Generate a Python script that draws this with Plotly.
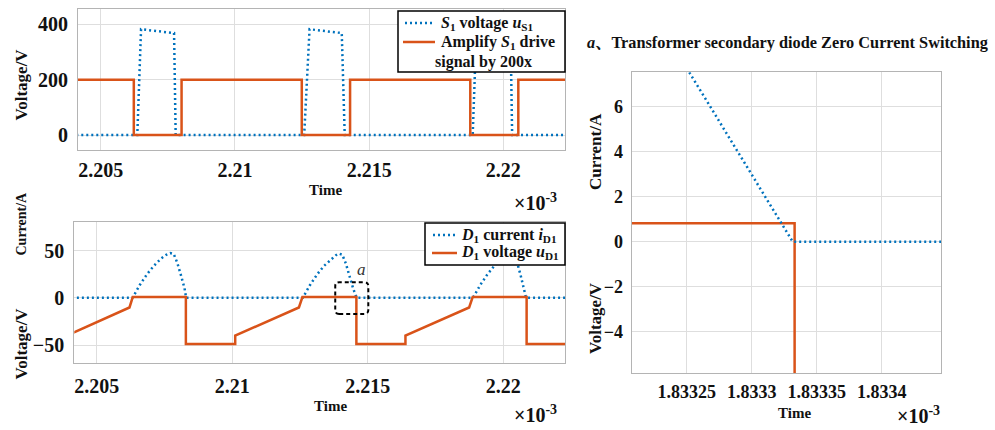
import plotly.graph_objects as go

# ---------------- data (time axis in units of 1e-3 s, as labelled) ----------------
# top-left: S1 voltage and amplified S1 drive signal
drive_t = [2.2039, 2.20623, 2.20801, 2.21249, 2.21429, 2.21877, 2.22056, 2.2226]
drive_v = [200, 0, 200, 0, 200, 0, 200, 200]

us1_t = [2.2039, 2.20636, 2.20650, 2.20773, 2.20779,
         2.21258, 2.21278, 2.21398, 2.21409,
         2.21886, 2.21900, 2.22027, 2.22033, 2.2226]
us1_v = [0, 0, 382, 368, 0,
         0, 382, 368, 0,
         0, 382, 368, 0, 0]

# bottom-left: D1 current and D1 voltage
id1_t = [2.2039,
         2.20632, 2.20659, 2.20685, 2.20711, 2.20738, 2.20758, 2.20771, 2.20784, 2.20797, 2.20811, 2.20824, 2.20830,
         2.21260, 2.21287, 2.21313, 2.21339, 2.21366, 2.21384, 2.21393, 2.21406, 2.21419, 2.21432, 2.21446, 2.21459,
         2.21888, 2.21915, 2.21941, 2.21967, 2.21994, 2.22014, 2.22025, 2.22038, 2.22051, 2.22064, 2.22077, 2.22084,
         2.2226]
id1_v = [0,
         0, 13.6, 24.8, 34.0, 41.8, 45.9, 47.6, 46.6, 37.4, 23.8, 10.2, 0,
         0, 13.6, 24.8, 34.0, 41.5, 45.5, 47.0, 45.8, 36.5, 23.5, 10.0, 0,
         0, 13.6, 24.8, 34.0, 41.8, 45.9, 47.6, 46.6, 37.4, 23.8, 10.2, 0,
         0]

ud1_t = [2.20390, 2.20621, 2.20633, 2.20829, 2.20829, 2.21011, 2.21011, 2.21246, 2.21259,
         2.21458, 2.21458, 2.21639, 2.21639, 2.21874, 2.21887, 2.22086, 2.22086, 2.2226]
ud1_v = [-40, -10.2, 0.8, 0.8, -49, -49, -40, -10.2, 0.8,
         0.8, -49, -49, -40, -10.2, 0.8, 0.8, -49, -49]

# right: zoom of region a
za_i_t = [1.833252, 1.8333315, 1.83345]
za_i_v = [7.53, 0, 0]
za_u_t = [1.83320, 1.833333, 1.833333]
za_u_v = [0.82, 0.82, -20]

# zoom-box "a" on the bottom-left chart (data units)
box_x = [2.21380, 2.21502]
box_y = [-17.0, 16.5]
box_label_xy = [2.21476, 29.6]

# ticks
top_x_ticks = [2.205, 2.21, 2.215, 2.22]
top_x_text = ["2.205", "2.21", "2.215", "2.22"]
top_y_ticks = [0, 200, 400]
bot_y_ticks = [-50, 0, 50]
r_x_ticks = [1.83325, 1.8333, 1.83335, 1.8334]
r_x_text = ["1.83325", "1.8333", "1.83335", "1.8334"]
r_y_ticks = [-4, -2, 0, 2, 4, 6]

# legend texts
leg1_names = ["<i>S</i><sub>1</sub> voltage <i>u</i><sub>S1</sub>",
              "Amplify <i>S</i><sub>1</sub> drive", "signal by 200x"]
leg2_names = ["<i>D</i><sub>1</sub> current <i>i</i><sub>D1</sub>",
              "<i>D</i><sub>1</sub> voltage <i>u</i><sub>D1</sub>"]

# ---------------- styling ----------------
W, H = 995, 430
BLUE = "#0072BD"
RED = "#D95319"
INK = "#111111"
FONT = "Liberation Serif, Times New Roman, Noto Serif CJK SC, Noto Sans CJK SC, serif"
DOT = "2px,3px"


def px(x):
    return x / W


def py(y):
    return 1 - y / H


fig = go.Figure()

fig.add_trace(go.Scatter(x=us1_t, y=us1_v, mode="lines", xaxis="x", yaxis="y",
                         line=dict(color=BLUE, width=2.5, dash=DOT), showlegend=False))
fig.add_trace(go.Scatter(x=drive_t, y=drive_v, mode="lines", xaxis="x", yaxis="y",
                         line=dict(color=RED, width=2.5, shape="hv"), showlegend=False))

fig.add_trace(go.Scatter(x=id1_t, y=id1_v, mode="lines", xaxis="x2", yaxis="y2",
                         line=dict(color=BLUE, width=2.5, dash=DOT), showlegend=False))
fig.add_trace(go.Scatter(x=ud1_t, y=ud1_v, mode="lines", xaxis="x2", yaxis="y2",
                         line=dict(color=RED, width=2.5), showlegend=False))

fig.add_trace(go.Scatter(x=za_u_t, y=za_u_v, mode="lines", xaxis="x3", yaxis="y3",
                         line=dict(color=RED, width=2.5), showlegend=False))
fig.add_trace(go.Scatter(x=za_i_t, y=za_i_v, mode="lines", xaxis="x3", yaxis="y3",
                         line=dict(color=BLUE, width=2.5, dash=DOT), showlegend=False))

axis_common = dict(showgrid=True, gridcolor="#dedede", gridwidth=1, zeroline=False,
                   showline=True, mirror=True, linecolor="#b4b4b4", linewidth=1.2,
                   ticks="", automargin=False)

fig.update_layout(
    width=W, height=H,
    margin=dict(l=0, r=0, t=0, b=0),
    paper_bgcolor="white", plot_bgcolor="white",
    font=dict(family=FONT, color=INK, weight="bold"),
    showlegend=False,
    xaxis=dict(domain=[px(78), px(565)], range=[2.20415, 2.2223], anchor="y",
               tickvals=top_x_ticks, ticktext=top_x_text, tickfont=dict(size=20),
               ticklabelstandoff=2, **axis_common),
    yaxis=dict(domain=[py(150), py(9)], range=[-54, 455], anchor="x",
               tickvals=top_y_ticks, tickfont=dict(size=20), ticklabelstandoff=5, **axis_common),
    xaxis2=dict(domain=[px(74.3), px(565)], range=[2.204174, 2.222276], anchor="y2",
                tickvals=top_x_ticks, ticktext=top_x_text, tickfont=dict(size=20),
                ticklabelstandoff=5, **axis_common),
    yaxis2=dict(domain=[py(363.3), py(222.3)], range=[-69.4, 80.1], anchor="x2",
                tickvals=bot_y_ticks, tickfont=dict(size=20), ticklabelstandoff=5, **axis_common),
    xaxis3=dict(domain=[px(631.7), px(941)], range=[1.8332077, 1.8334456], anchor="y3",
                tickvals=r_x_ticks, ticktext=r_x_text, tickfont=dict(size=18),
                ticklabelstandoff=2, **axis_common),
    yaxis3=dict(domain=[py(373.3), py(72.3)], range=[-5.85, 7.53], anchor="x3",
                tickvals=r_y_ticks, tickfont=dict(size=18), ticklabelstandoff=4, **axis_common),
)

# rounded dashed zoom box "a"
rx = (box_x[1] - box_x[0]) * 0.12
ry = (box_y[1] - box_y[0]) * 0.12
x0, x1 = box_x
y0, y1 = box_y
box_path = (f"M{x0 + rx},{y0} L{x1 - rx},{y0} Q{x1},{y0} {x1},{y0 + ry} "
            f"L{x1},{y1 - ry} Q{x1},{y1} {x1 - rx},{y1} "
            f"L{x0 + rx},{y1} Q{x0},{y1} {x0},{y1 - ry} "
            f"L{x0},{y0 + ry} Q{x0},{y0} {x0 + rx},{y0} Z")
fig.add_shape(type="path", xref="x2", yref="y2", path=box_path,
              line=dict(color="black", width=2, dash="4px,3px"))

# ---- legends (drawn as boxes, sample lines and texts in pixel positions) ----
def box(xa, ya, xb, yb):
    fig.add_shape(type="rect", xref="paper", yref="paper", x0=px(xa), x1=px(xb),
                  y0=py(yb), y1=py(ya), fillcolor="white",
                  line=dict(color="black", width=1.5), layer="above")


def sample(xa, xb, y, color, dash):
    fig.add_shape(type="line", xref="paper", yref="paper", x0=px(xa), x1=px(xb),
                  y0=py(y), y1=py(y), line=dict(color=color, width=2.5, dash=dash),
                  layer="above")


ann = []


def label(text, x, y, size, angle=0, xanchor="center", color=INK):
    ann.append(dict(text=text, x=px(x), y=py(y), xref="paper", yref="paper",
                    showarrow=False, textangle=angle, xanchor=xanchor, yanchor="middle",
                    font=dict(size=size, family=FONT, color=color, weight="bold")))


box(398, 11, 565, 72)
sample(405, 433, 23, BLUE, DOT)
sample(403, 435, 42, RED, "solid")
label(leg1_names[0], 439, 23, 16, xanchor="left")
label(leg1_names[1], 439, 42, 16, xanchor="left")
label(leg1_names[2], 433, 62, 16, xanchor="left")

box(425, 223, 565, 265)
sample(433, 457, 235, BLUE, DOT)
sample(432, 457, 253, RED, "solid")
label(leg2_names[0], 459, 235, 16, xanchor="left")
label(leg2_names[1], 459, 253, 16, xanchor="left")

# axis titles and multipliers
label("Voltage/V", 20.5, 85, 17, -90)
label("Time", 325, 190, 15)
label("×10<sup>-3</sup>", 535, 202, 20)

label("Current/A", 20.5, 224, 14, -90)
label("Voltage/V", 20.5, 344, 17, -90)
label("Time", 330, 406, 15)
label("×10<sup>-3</sup>", 535, 414, 20)

label("<i>a</i>、Transformer secondary diode Zero Current Switching", 787, 43, 16.3)
label("Current/A", 595, 152, 17, -90)
label("Voltage/V", 595, 318, 17, -90)
label("Time", 794, 413, 15)
label("×10<sup>-3</sup>", 918, 415, 20)

ann.append(dict(text="<i>a</i>", x=box_label_xy[0], y=box_label_xy[1], xref="x2", yref="y2",
                showarrow=False, font=dict(size=17, family=FONT, color="#333333", weight="normal")))

fig.update_layout(annotations=ann)

fig.write_html("out.html")
